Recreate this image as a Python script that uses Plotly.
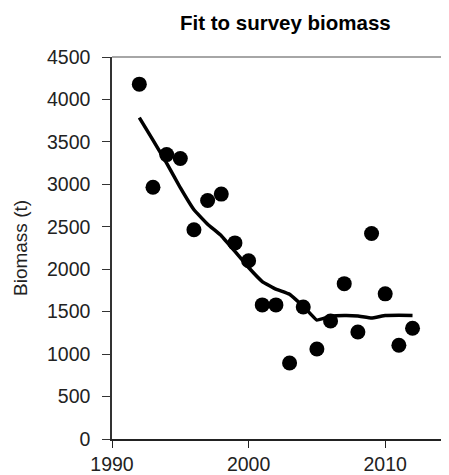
import plotly.graph_objects as go

years = list(range(1992, 2013))
observed = [4180, 2965, 3350, 3305, 2465, 2810, 2885, 2310, 2100,
            1580, 1580, 895, 1555, 1060, 1390, 1830, 1260, 2420, 1710, 1105, 1305]
fitted = [3785, 3520, 3250, 2960, 2700, 2530, 2395, 2210, 2020,
          1855, 1765, 1705, 1565, 1400, 1445, 1455, 1450, 1425, 1455, 1458, 1455]

x_ticks = [1990, 2000, 2010]
y_ticks = list(range(0, 4501, 500))

fig = go.Figure()
fig.add_trace(go.Scatter(x=years, y=fitted, mode="lines",
                         line=dict(color="black", width=3.5, shape="spline", smoothing=0.2),
                         showlegend=False, hoverinfo="skip"))
fig.add_trace(go.Scatter(x=years, y=observed, mode="markers",
                         marker=dict(color="black", size=15),
                         showlegend=False))

# page body has an 8px margin, so the figure is shrunk and shifted accordingly
fig.update_layout(
    width=441, height=467,
    margin=dict(l=104, r=0, t=49, b=27),
    paper_bgcolor="white", plot_bgcolor="white",
    font=dict(family="Liberation Sans, Arial, sans-serif", size=19, color="#222"),
    title=dict(text="<b>Fit to survey biomass</b>", x=0.629, xanchor="center",
               y=0.968, yanchor="middle", font=dict(size=20.5, color="black")),
    xaxis=dict(range=[1990, 2014.67], tickvals=x_ticks, ticks="outside", ticklen=7,
               tickcolor="#222", showline=True, linecolor="#222", linewidth=1.5,
               showgrid=False, zeroline=False, tickfont=dict(size=19.5)),
    yaxis=dict(range=[0, 4500], tickvals=y_ticks, ticks="outside", ticklen=8,
               tickcolor="#333", showline=True, linecolor="#333", linewidth=1.5,
               showgrid=False, zeroline=False, tickfont=dict(size=19.5),
               ticklabelstandoff=8),
    annotations=[dict(text="Biomass (t)", xref="paper", yref="paper",
                      x=-0.273, y=0.5, textangle=-90, showarrow=False,
                      xanchor="center", yanchor="middle",
                      font=dict(size=19, color="#222"))],
    shapes=[dict(type="line", xref="paper", yref="paper", x0=0, x1=1, y0=1, y1=1,
                 line=dict(color="#888", width=1.5))],
)

fig.write_html("out.html")
